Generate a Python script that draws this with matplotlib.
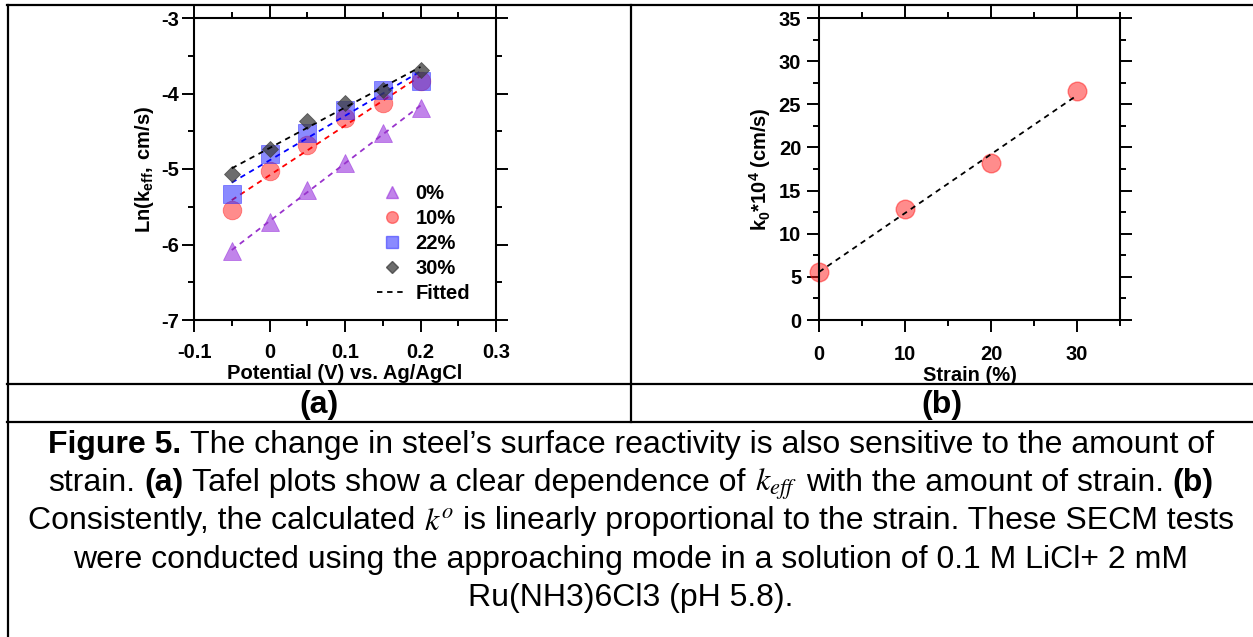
import numpy as np
import matplotlib as mpl
mpl.use('Agg')
from matplotlib import pyplot as plt
from matplotlib import ticker
from matplotlib.lines import Line2D
from matplotlib.transforms import IdentityTransform

##########################################################################################
# data

potential = [-0.05, 0.0, 0.05, 0.10, 0.15, 0.20]   # V vs. Ag/AgCl

lnk_0 = [-6.09, -5.70, -5.28, -4.92, -4.52, -4.19]
lnk_10 = [-5.54, -5.02, -4.68, -4.33, -4.13, -3.84]
lnk_22 = [-5.33, -4.80, -4.52, -4.22, -3.96, -3.83]
lnk_30 = [-5.06, -4.73, -4.36, -4.12, -3.96, -3.69]

seriesLabels = ['0%', '10%', '22%', '30%']

strain = [0, 10, 20, 30]            # %
k0 = [5.6, 12.84, 18.2, 26.56]      # k0 * 1e4 (cm/s)

##########################################################################################
# style

W, H = 1253, 637
DPI = 100
fs = 14.5        # axes text size
capSize = 23.0   # caption text size

mpl.rc('font', **{'family': 'sans-serif', 'sans-serif': ['Liberation Sans', 'DejaVu Sans'],
                  'size': fs, 'weight': 'bold'})
mpl.rcParams['mathtext.fontset'] = 'custom'
mpl.rcParams['mathtext.rm'] = 'Liberation Sans:weight=bold'
mpl.rcParams['mathtext.bf'] = 'Liberation Sans:weight=bold'
mpl.rcParams['mathtext.it'] = 'STIXGeneral:style=italic:weight=normal'
mpl.rcParams['axes.linewidth'] = 1.5
mpl.rcParams['xtick.direction'] = 'out'
mpl.rcParams['ytick.direction'] = 'out'

pColors = {'purple': '#9933DD', 'red': '#FF1A1A', 'blue': '#2A2AFF', 'gray': '#3C3C3C'}
lineColors = ['#9933CC', '#FF0000', '#0000FF', '#000000']


def px(x, y):
    # pixel from top-left -> display coords
    return x, H - y


def axesRect(left, top, right, bottom):
    return [left / W, 1.0 - bottom / H, (right - left) / W, (bottom - top) / H]


def styleAxes(ax, xpad, ypad):
    ax.tick_params('both', which='major', length=8.8, width=1.4,
                   top=True, right=True, labelsize=fs)
    ax.tick_params('both', which='minor', length=4.5, width=1.4,
                   top=True, right=True)
    ax.tick_params(axis='x', which='major', pad=xpad)
    ax.tick_params(axis='y', which='major', pad=ypad)
    for lab in ax.get_xticklabels() + ax.get_yticklabels():
        lab.set_fontweight('bold')


fig = plt.figure(figsize=(W / DPI, H / DPI), dpi=DPI)

##########################################################################################
# panel (a): Tafel plots

ax1 = fig.add_axes(axesRect(194, 18, 496, 320))

markers = ['^', 'o', 's', 'D']
msizes = [13.0, 13.4, 13.4, 8.6]
fills = [pColors['purple'], pColors['red'], pColors['blue'], pColors['gray']]
alphas = [0.6, 0.5, 0.55, 0.75]
allSeries = [lnk_0, lnk_10, lnk_22, lnk_30]

xv = np.array(potential)
for i, yv in enumerate(allSeries):
    yv = np.array(yv)
    p = np.polyfit(xv, yv, 1)
    xfit = np.array([xv[0], xv[-1]])
    ax1.plot(xfit, np.polyval(p, xfit), color=lineColors[i], lw=1.3,
             dashes=(3, 2.6), zorder=3 + 2 * i)
    ax1.plot(xv, yv, linestyle='none', marker=markers[i], ms=msizes[i],
             mfc=fills[i], mec=fills[i], mew=0.6, alpha=alphas[i], zorder=2 + 2 * i)

ax1.set_xlim(-0.1, 0.3)
ax1.set_ylim(-7, -3)
ax1.xaxis.set_major_locator(ticker.MultipleLocator(0.1))
ax1.xaxis.set_minor_locator(ticker.MultipleLocator(0.05))
ax1.yaxis.set_major_locator(ticker.MultipleLocator(1))
ax1.yaxis.set_minor_locator(ticker.MultipleLocator(0.5))
ax1.xaxis.set_major_formatter(ticker.FormatStrFormatter('%g'))
ax1.yaxis.set_major_formatter(ticker.FormatStrFormatter('%g'))
styleAxes(ax1, xpad=8, ypad=2)

ax1.set_xlabel('Potential (V) vs. Ag/AgCl', fontsize=fs, fontweight='bold', labelpad=1.5)
ax1.set_ylabel(r'$\mathrm{Ln(k_{eff},\ cm/s)}$', fontsize=fs, labelpad=4)

# legend with proxies
legMs = [8.4, 8.4, 8.4, 6.0]
handles = []
for i in range(4):
    handles.append(Line2D([], [], linestyle='none', marker=markers[i], ms=legMs[i],
                          mfc=fills[i], mec=fills[i], alpha=alphas[i]))
handles.append(Line2D([], [], color='black', lw=1.3, dashes=(3, 2.6)))
leg = ax1.legend(handles, seriesLabels + ['Fitted'],
                 loc='lower right', bbox_to_anchor=(0.915, 0.055),
                 frameon=False, fontsize=fs, handlelength=1.45,
                 handletextpad=0.45, labelspacing=0.3, borderpad=0, borderaxespad=0)
for t in leg.get_texts():
    t.set_fontweight('bold')

##########################################################################################
# panel (b): k0 vs strain

ax2 = fig.add_axes(axesRect(819, 18, 1120, 320))

sv = np.array(strain, dtype=float)
kv = np.array(k0)
pb = np.polyfit(sv, kv, 1)
sfit = np.array([sv[0], sv[-1]])
ax2.plot(sfit, np.polyval(pb, sfit), color='black', lw=1.3, dashes=(3, 2.6), zorder=3)
ax2.plot(sv, kv, linestyle='none', marker='o', ms=13.4, mfc=pColors['red'],
         mec=pColors['red'], alpha=0.5, zorder=2, clip_on=False)

ax2.set_xlim(0, 35)
ax2.set_ylim(0, 35)
ax2.xaxis.set_major_locator(ticker.FixedLocator([0, 10, 20, 30]))
ax2.xaxis.set_minor_locator(ticker.MultipleLocator(5))
ax2.yaxis.set_major_locator(ticker.MultipleLocator(5))
ax2.yaxis.set_minor_locator(ticker.MultipleLocator(2.5))
ax2.xaxis.set_major_formatter(ticker.FormatStrFormatter('%g'))
ax2.yaxis.set_major_formatter(ticker.FormatStrFormatter('%g'))
styleAxes(ax2, xpad=9, ypad=4)

ax2.set_xlabel('Strain (%)', fontsize=fs, fontweight='bold', labelpad=1.5)
ax2.set_ylabel(r'$\mathrm{k_0{*}10^4\ (cm/s)}$', fontsize=fs, labelpad=4)

##########################################################################################
# table frame

tableLines = [
    ((7, 5), (W, 5)),
    ((7, 384), (W, 384)),
    ((7, 422), (W, 422)),
    ((7.5, 5), (7.5, H)),
    ((631, 5), (631, 422)),
]
for (x0, y0), (x1, y1) in tableLines:
    a, b = px(x0, y0)
    c, d = px(x1, y1)
    fig.add_artist(Line2D([a, c], [b, d], color='black', lw=1.6,
                          transform=IdentityTransform(), solid_capstyle='projecting'))

##########################################################################################
# panel labels and caption

fig.text(*px(319, 405), '(a)', fontsize=capSize, fontweight='bold', ha='center',
         va='center', transform=IdentityTransform())
fig.text(*px(942, 405), '(b)', fontsize=capSize, fontweight='bold', ha='center',
         va='center', transform=IdentityTransform())

captionLines = [
    [('Figure 5.', 'b'), ('The change in steel\u2019s surface reactivity is also sensitive to the amount of', 'n')],
    [('strain.', 'n'), ('(a)', 'b'), ('Tafel plots show a clear dependence of', 'n'),
     (r'$k_{eff}$', 'm'), ('with the amount of strain.', 'n'), ('(b)', 'b')],
    [('Consistently, the calculated', 'n'), (r'$k^{o}$', 'm'),
     ('is linearly proportional to the strain. These SECM tests', 'n')],
    [('were conducted using the approaching mode in a solution of 0.1 M LiCl+ 2 mM', 'n')],
    [('Ru(NH3)6Cl3 (pH 5.8).', 'n')],
]
baselines = [453, 491, 529.5, 568, 606]
captionCenter = 631

renderer = fig.canvas.get_renderer()


def textWidth(s, weight):
    t = fig.text(0, 0, s, fontsize=capSize, fontweight=weight, transform=IdentityTransform())
    w = t.get_window_extent(renderer).width
    t.remove()
    return w


spaceW = textWidth('a a', 'normal') - textWidth('aa', 'normal')

for segs, yb in zip(captionLines, baselines):
    arts = []
    widths = []
    for s, style in segs:
        weight = 'bold' if style == 'b' else 'normal'
        t = fig.text(0, H - yb, s, fontsize=capSize, fontweight=weight, ha='left',
                     va='baseline', transform=IdentityTransform())
        arts.append(t)
        widths.append(t.get_window_extent(renderer).width)
    total = sum(widths) + spaceW * (len(segs) - 1)
    x = captionCenter - total / 2.0
    for t, w in zip(arts, widths):
        t.set_x(x)
        x += w + spaceW

fig.savefig('out.png', dpi=DPI)
